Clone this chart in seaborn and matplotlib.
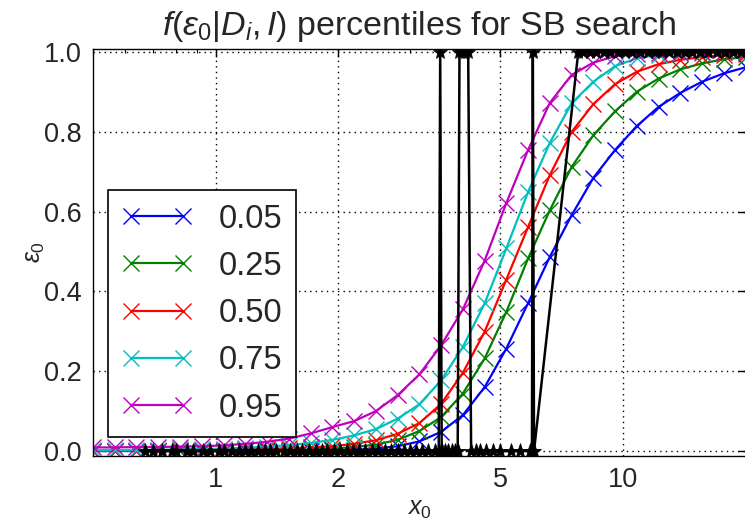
import matplotlib
matplotlib.use("Agg")
import matplotlib.pyplot as plt
import seaborn as sns
from matplotlib.ticker import FixedLocator, FixedFormatter, LogLocator, NullFormatter

# ---------------- data ----------------
x0 = [0.500, 0.565, 0.639, 0.723, 0.818, 0.925, 1.046, 1.183, 1.338, 1.513,
      1.711, 1.935, 2.188, 2.474, 2.798, 3.164, 3.578, 4.046, 4.576, 5.174,
      5.852, 6.617, 7.483, 8.463, 9.570, 10.82, 12.24, 13.84, 15.65, 17.70, 20.00]

p05 = [0.000, 0.000, 0.000, 0.000, 0.000, 0.000, 0.000, 0.000, 0.001, 0.001,
       0.001, 0.002, 0.003, 0.006, 0.012, 0.024, 0.048, 0.090, 0.160, 0.257,
       0.371, 0.487, 0.591, 0.685, 0.755, 0.815, 0.863, 0.898, 0.926, 0.947, 0.962]
p25 = [0.000, 0.000, 0.001, 0.001, 0.001, 0.001, 0.001, 0.002, 0.002, 0.003,
       0.004, 0.006, 0.010, 0.016, 0.028, 0.050, 0.085, 0.144, 0.232, 0.349,
       0.483, 0.604, 0.712, 0.792, 0.852, 0.901, 0.934, 0.957, 0.972, 0.982, 0.988]
p50 = [0.001, 0.001, 0.001, 0.001, 0.002, 0.002, 0.003, 0.004, 0.005, 0.007,
       0.009, 0.012, 0.018, 0.027, 0.043, 0.070, 0.118, 0.196, 0.299, 0.430,
       0.562, 0.692, 0.800, 0.870, 0.920, 0.951, 0.970, 0.981, 0.988, 0.993, 0.996]
p75 = [0.002, 0.002, 0.003, 0.003, 0.004, 0.005, 0.006, 0.008, 0.011, 0.015,
       0.020, 0.028, 0.039, 0.055, 0.081, 0.117, 0.177, 0.261, 0.370, 0.508,
       0.650, 0.773, 0.872, 0.926, 0.965, 0.985, 0.993, 0.997, 0.999, 1.000, 1.000]
p95 = [0.009, 0.009, 0.010, 0.010, 0.011, 0.012, 0.014, 0.018, 0.023, 0.031,
       0.044, 0.060, 0.075, 0.100, 0.140, 0.192, 0.265, 0.355, 0.477, 0.622,
       0.755, 0.873, 0.943, 0.974, 0.990, 0.996, 0.998, 0.999, 1.000, 1.000, 1.000]

series = [p05, p25, p50, p75, p95]
labels = ["0.05", "0.25", "0.50", "0.75", "0.95"]

# SB search outcomes (0 = not found, 1 = found)
sb_x = [0.67, 0.70, 0.74, 0.78, 0.80, 0.85, 0.88, 0.93, 0.97, 1.02,
        1.05, 1.10, 1.14, 1.18, 1.22, 1.27, 1.32, 1.36, 1.41, 1.47,
        1.52, 1.58, 1.63, 1.70, 1.76, 1.82, 1.88, 1.95, 2.02, 2.10,
        2.17, 2.25, 2.33, 2.42, 2.50, 2.60, 2.70, 2.80, 2.90, 3.00,
        3.10, 3.22, 3.33, 3.45, 3.53, 3.56, 3.59, 3.65, 3.72, 3.80,
        3.88, 3.93, 3.97, 4.03, 4.10, 4.17, 4.24, 4.35, 4.45, 4.60,
        4.80, 5.00, 5.30, 5.60, 5.90, 5.98, 6.01, 6.05, 7.77, 8.00,
        8.30, 8.60, 9.00, 9.30, 9.70, 10.1, 10.5, 11.0, 11.5, 12.0,
        12.5, 13.0, 13.6, 14.2, 14.8, 15.5, 16.2, 17.0, 17.8, 18.6, 19.5]
sb_y = [0, 0, 0, 0, 0, 0, 0, 0, 0, 0,
        0, 0, 0, 0, 0, 0, 0, 0, 0, 0,
        0, 0, 0, 0, 0, 0, 0, 0, 0, 0,
        0, 0, 0, 0, 0, 0, 0, 0, 0, 0,
        0, 0, 0, 0, 0, 1, 0, 0, 0, 0,
        0, 0, 1, 1, 1, 1, 0, 0, 0, 0,
        0, 0, 0, 0, 0, 0, 1, 0, 1, 1,
        1, 1, 1, 1, 1, 1, 1, 1, 1, 1,
        1, 1, 1, 1, 1, 1, 1, 1, 1, 1, 1]

xticks = [1, 2, 5, 10]
xticklabels = ["1", "2", "5", "10"]
yticks = [0.0, 0.2, 0.4, 0.6, 0.8, 1.0]
yticklabels = ["0.0", "0.2", "0.4", "0.6", "0.8", "1.0"]

title = r"$f(\varepsilon_0|D_i, I)$ percentiles for SB search"
xlabel = r"$x_0$"
ylabel = r"$\varepsilon_0$"

# ---------------- style ----------------
sns.set_theme(style="white")
plt.rcParams["font.family"] = ["Liberation Sans", "DejaVu Sans"]
plt.rcParams["mathtext.fontset"] = "custom"
plt.rcParams["mathtext.rm"] = "Liberation Sans"
plt.rcParams["mathtext.it"] = "Liberation Sans:italic"
plt.rcParams["mathtext.bf"] = "Liberation Sans:bold"
plt.rcParams["axes.edgecolor"] = "black"
plt.rcParams["axes.linewidth"] = 1.0

colors = ["#0000ff", "#008000", "#ff0000", "#00bfbf", "#bf00bf"]

fig = plt.figure(figsize=(7.45, 5.22), dpi=100)
ax = fig.add_axes([93 / 745, 1 - 456 / 522, (745.5 - 93) / 745, (456 - 49) / 522])

lines = []
for ys, lab, col in zip(series, labels, colors):
    sns.lineplot(x=x0, y=ys, ax=ax, color=col, marker="x", markersize=11,
                 markeredgewidth=1.0, markeredgecolor=col, linewidth=1.6,
                 estimator=None, sort=False, label=lab, legend=False)
    lines.append(ax.lines[-1])

sns.lineplot(x=sb_x, y=sb_y, ax=ax, color="black", marker="*", markersize=11,
             markeredgewidth=0.5, markeredgecolor="black", linewidth=1.8,
             estimator=None, sort=False, legend=False)

ax.set_xscale("log")
ax.set_xlim(0.5, 20)
ax.set_ylim(-0.0125, 1.008)
ax.xaxis.set_major_locator(FixedLocator(xticks))
ax.xaxis.set_major_formatter(FixedFormatter(xticklabels))
ax.xaxis.set_minor_locator(LogLocator(base=10, subs=(2, 3, 4, 5, 6, 7, 8, 9)))
ax.xaxis.set_minor_formatter(NullFormatter())
ax.set_yticks(yticks)
ax.set_yticklabels(yticklabels)

ax.tick_params(which="both", direction="in", top=True, right=True, color="black")
ax.tick_params(which="major", length=5.5, width=1.0, labelsize=19.5, pad=8)
ax.tick_params(which="minor", length=2.8, width=0.8)

ax.grid(True, which="major", color="black", linestyle=(0, (1, 3)), linewidth=1.0)

ax.set_title(title, fontsize=24.5, pad=10)
ax.set_xlabel(xlabel, fontsize=18, labelpad=3)
ax.set_ylabel(ylabel, fontsize=18, labelpad=-2)

leg = ax.legend(handles=lines, labels=labels, loc="lower left",
                bbox_to_anchor=(0.023, 0.047), borderaxespad=0, numpoints=2,
                fontsize=23.5, frameon=True, fancybox=False, handlelength=2.2,
                borderpad=0.4, labelspacing=0.5, handletextpad=0.8)
leg.get_frame().set_edgecolor("black")
leg.get_frame().set_linewidth(1.2)
leg.get_frame().set_facecolor("white")
leg.get_frame().set_alpha(1.0)

fig.savefig("out.png", dpi=100)
